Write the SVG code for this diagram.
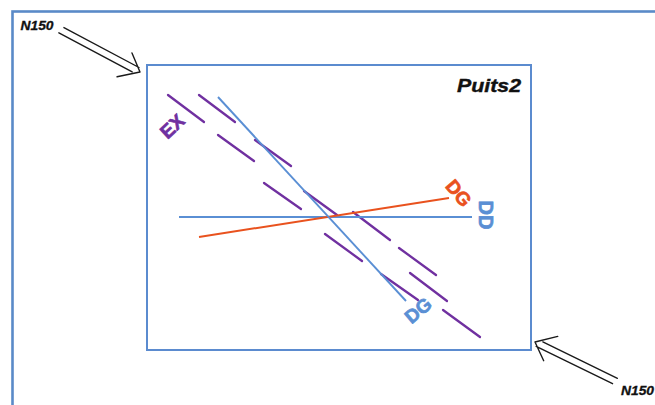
<svg xmlns="http://www.w3.org/2000/svg" width="655" height="405" viewBox="0 0 655 405">
<style>
.frame{fill:none;stroke:#5a8ac8;stroke-width:2.6}
.box{fill:none;stroke:#5b8bcf;stroke-width:2}
.ex{stroke:#7030a0;stroke-width:2.3;stroke-linecap:round}
.blue{stroke:#5a8fd4;stroke-width:1.9}
.orange{stroke:#e9521e;stroke-width:2}
.arrow{fill:none;stroke:#1a1a1a;stroke-width:1.4;stroke-linecap:round;stroke-linejoin:round}
.lbl{font-family:"Liberation Sans",Arial,sans-serif;font-weight:bold;text-anchor:middle;stroke-width:0.7;stroke-linejoin:round}
.n150{font-family:"Liberation Sans",Arial,sans-serif;font-weight:bold;font-style:italic;font-size:12px;fill:#111;stroke:#111;stroke-width:0.3}
</style>
<defs>
<g id="hollowArrow">
<path class="arrow" d="M-88,-3.5 L-3,-3.5 M-90,3.5 L-7,3.5 M-16,-13 L0,0 L-18,15"/>
</g>
</defs>
<rect width="655" height="405" fill="#ffffff"/>
<rect class="frame" x="12.5" y="11.5" width="700" height="500"/>
<g id="puits2">
<rect class="box" x="147" y="65" width="384" height="285"/>
<text x="489" y="92" text-anchor="middle" font-family="'Liberation Sans',Arial,sans-serif" font-weight="bold" font-style="italic" font-size="19" textLength="64" lengthAdjust="spacingAndGlyphs" fill="#111" stroke="#111" stroke-width="0.4">Puits2</text>
</g>
<g id="connectors">
<g id="ex-lines">
<line class="ex" x1="168" y1="95" x2="204" y2="122"/>
<line class="ex" x1="199" y1="95" x2="235" y2="122"/>
<line class="ex" x1="218" y1="135" x2="254" y2="161"/>
<line class="ex" x1="255" y1="140" x2="291" y2="166"/>
<line class="ex" x1="264" y1="183" x2="301" y2="209"/>
<line class="ex" x1="304" y1="191" x2="337" y2="215"/>
<line class="ex" x1="353" y1="212" x2="390" y2="240"/>
<line class="ex" x1="325" y1="234" x2="362" y2="261"/>
<line class="ex" x1="399" y1="248" x2="436" y2="275"/>
<line class="ex" x1="381" y1="274" x2="418" y2="300"/>
<line class="ex" x1="410" y1="273" x2="447" y2="301"/>
<line class="ex" x1="443" y1="310" x2="480" y2="337"/>
</g>
<line id="dd-line" class="blue" x1="179" y1="217" x2="472" y2="217"/>
<line id="dg-orange-line" class="orange" x1="199" y1="237" x2="449" y2="198"/>
<line id="dg-blue-line" class="blue" x1="218" y1="97" x2="406" y2="301"/>
<use id="arrow-nw" href="#hollowArrow" transform="translate(140,72) rotate(28)"/>
<use id="arrow-se" href="#hollowArrow" transform="translate(535,342) rotate(206)"/>
</g>
<g id="labels">
<text class="lbl" font-size="19" fill="#7030a0" stroke="#7030a0" transform="translate(172,126) rotate(-43)" y="7">EX</text>
<text class="lbl" font-size="19" fill="#e9521e" stroke="#e9521e" transform="translate(459,193) rotate(50)" y="7">DG</text>
<text class="lbl" font-size="20" fill="#5a8fd4" stroke="#5a8fd4" transform="translate(486,215) rotate(90)" y="7">DD</text>
<text class="lbl" font-size="19" fill="#5a8fd4" stroke="#5a8fd4" transform="translate(418,310) rotate(-40)" y="7">DG</text>
<text class="n150" x="20.5" y="30" textLength="33" lengthAdjust="spacingAndGlyphs">N150</text>
<text class="n150" x="621" y="395" textLength="33" lengthAdjust="spacingAndGlyphs">N150</text>
</g>
</svg>
